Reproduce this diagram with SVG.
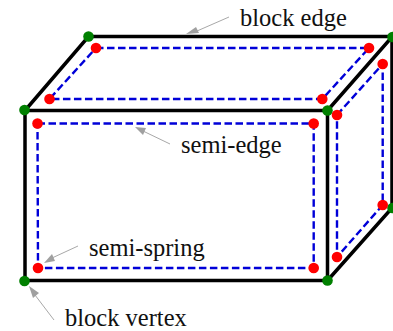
<svg xmlns="http://www.w3.org/2000/svg" width="393" height="331" viewBox="0 0 393 331">
<style>
.e{fill:none;stroke:#000;stroke-width:3.5;stroke-linecap:round}
.s{fill:none;stroke:#0000d8;stroke-width:2.4;stroke-dasharray:7.500 3.500}
.a{fill:none;stroke:#a8a8a8;stroke-width:1}
.h{fill:#a0a0a0}
.g{fill:#008000}
.r{fill:#ff0000}
text{font-family:"Liberation Serif","Times New Roman",serif;font-size:24.500px;fill:#111}
</style>
<rect width="393" height="331" fill="#fff"/>
<g id="connectors">
<g id="block-edges">
<path class="e" d="M25 110.500H327.500V280.500H25ZM25 110.500L88.500 36.500H392M327.500 110.500L392 37M327.500 280.500L392 208M392 37V208"/>
</g>
<g id="semi-edges">
<path class="s" d="M37.500 123.500H313.700V268H38Z"/>
<path class="s" d="M96 48H369L322.300 99H49.500Z"/>
<path class="s" d="M337 115L382.700 64V205L337 257Z"/>
</g>
<g id="leaders">
<path class="a" d="M229 17L197 31"/><path class="h" d="M186 34L196 27L199 33Z"/>
<path class="a" d="M170 144L143 131"/><path class="h" d="M135 127L146 128L143 135Z"/>
<path class="a" d="M78 246L52 258"/><path class="h" d="M44 263L52 254L55 261Z"/>
<path class="a" d="M54 320L35 295"/><path class="h" d="M29 286L39 293L33 298Z"/>
</g>
</g>
<g id="block-vertices">
<circle class="g" cx="88.500" cy="36.500" r="5.300"/>
<circle class="g" cx="24.500" cy="110" r="5.300"/>
<circle class="g" cx="327.500" cy="110.500" r="5.300"/>
<circle class="g" cx="392.500" cy="37" r="5.300"/>
<circle class="g" cx="24.500" cy="281" r="5.300"/>
<circle class="g" cx="327.500" cy="280.500" r="5.300"/>
<circle class="g" cx="392.500" cy="208" r="5.300"/>
</g>
<g id="semi-springs">
<circle class="r" cx="96" cy="48" r="5.300"/>
<circle class="r" cx="49.500" cy="99" r="5.300"/>
<circle class="r" cx="37.500" cy="123.500" r="5.300"/>
<circle class="r" cx="369" cy="48" r="5.300"/>
<circle class="r" cx="322.300" cy="99" r="5.300"/>
<circle class="r" cx="313.700" cy="123.500" r="5.300"/>
<circle class="r" cx="337" cy="115" r="5.300"/>
<circle class="r" cx="382.700" cy="64" r="5.300"/>
<circle class="r" cx="38" cy="268" r="5.300"/>
<circle class="r" cx="313.700" cy="268" r="5.300"/>
<circle class="r" cx="337" cy="257" r="5.300"/>
<circle class="r" cx="382.700" cy="205" r="5.300"/>
</g>
<g id="labels">
<text x="240" y="26">block edge</text>
<text x="181" y="153">semi-edge</text>
<text x="89" y="256">semi-spring</text>
<text x="65" y="325.500">block vertex</text>
</g>
</svg>
